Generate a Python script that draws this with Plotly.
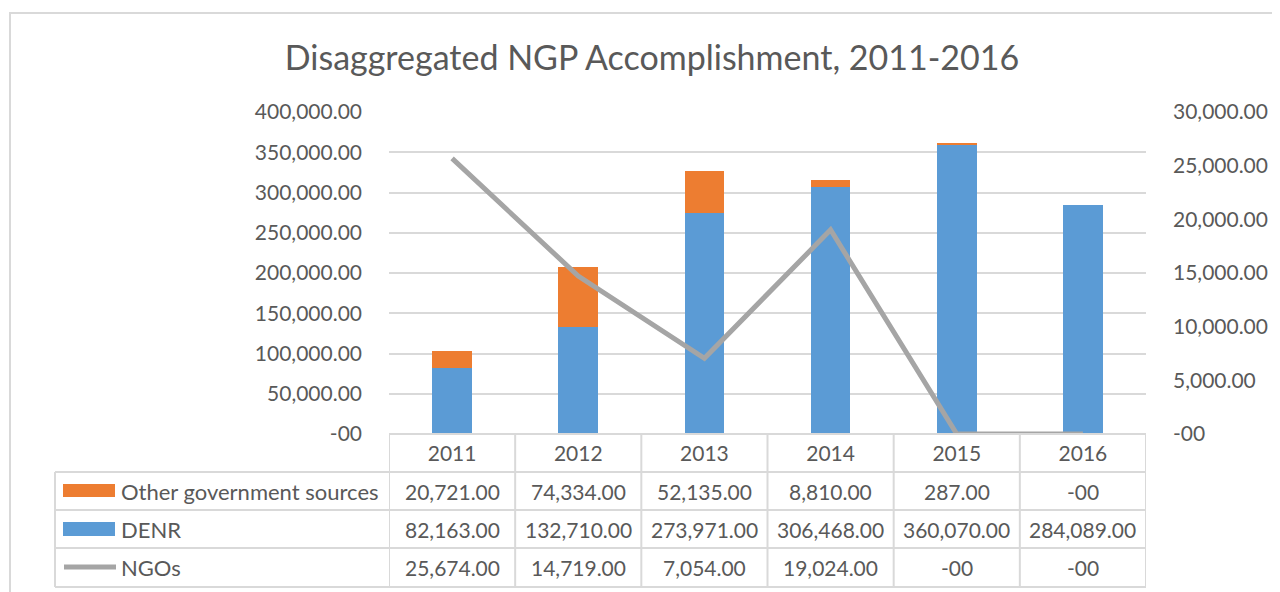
import plotly.graph_objects as go

years = ["2011", "2012", "2013", "2014", "2015", "2016"]
other_gov = [20721, 74334, 52135, 8810, 287, 0]
denr = [82163, 132710, 273971, 306468, 360070, 284089]
ngos = [25674, 14719, 7054, 19024, 0, 0]

left_ticks = [0, 50000, 100000, 150000, 200000, 250000, 300000, 350000, 400000]
right_ticks = [0, 5000, 10000, 15000, 20000, 25000, 30000]

series_names = ["Other government sources", "DENR", "NGOs"]
series_values = [other_gov, denr, ngos]

C_ORANGE = "#ED7D31"
C_BLUE = "#5B9BD5"
C_GRAY = "#A5A5A5"
TXT = "#595959"
LINE = "#D9D9D9"
FONT = "Lato"

W, H = 1280, 592
OFF = 8  # default page body margin
PL, PR, PT, PB = 389, 1146, 112, 434  # plot area in screen pixels


def fmt(v):
    return "-00" if v == 0 else f"{v:,.2f}"


def px_x(p):
    return (p - PL) / (PR - PL)


def px_y(p):
    return (PB - p) / (PB - PT)


x = list(range(len(years)))

fig = go.Figure()
fig.add_trace(go.Bar(x=x, y=denr, name="DENR", marker=dict(color=C_BLUE, line=dict(width=0)),
                     width=0.315, yaxis="y"))
fig.add_trace(go.Bar(x=x, y=other_gov, name="Other government sources",
                     marker=dict(color=C_ORANGE, line=dict(width=0)), width=0.315, yaxis="y"))
fig.add_trace(go.Scatter(x=x, y=ngos, name="NGOs", mode="lines",
                         line=dict(color=C_GRAY, width=5), yaxis="y2"))

shapes = []
annotations = []

# outer chart border
shapes.append(dict(type="rect", xref="paper", yref="paper",
                   x0=px_x(10), x1=px_x(1300), y0=px_y(13), y1=px_y(620),
                   line=dict(color=LINE, width=2), fillcolor="rgba(0,0,0,0)", layer="below"))

# table grid
row_lines = [434, 472, 510, 548, 587]
tbl_left = 55
for i, ry in enumerate(row_lines):
    x0 = PL if i == 0 else tbl_left
    shapes.append(dict(type="line", xref="paper", yref="paper",
                       x0=px_x(x0), x1=px_x(PR), y0=px_y(ry), y1=px_y(ry),
                       line=dict(color=LINE, width=2)))
for k in range(len(years) + 1):
    shapes.append(dict(type="line", xref="x", yref="paper",
                       x0=k - 0.5, x1=k - 0.5, y0=px_y(434), y1=px_y(587),
                       line=dict(color=LINE, width=2)))
shapes.append(dict(type="line", xref="paper", yref="paper",
                   x0=px_x(tbl_left), x1=px_x(tbl_left), y0=px_y(472), y1=px_y(587),
                   line=dict(color=LINE, width=2)))

row_centers = [491, 529, 567]
for r, (name, vals) in enumerate(zip(series_names, series_values)):
    cy = row_centers[r]
    for k, v in enumerate(vals):
        annotations.append(dict(x=k, y=px_y(cy), xref="x", yref="paper", text=fmt(v),
                                showarrow=False, xanchor="center", yanchor="middle",
                                font=dict(family=FONT, size=21, color=TXT)))
    annotations.append(dict(x=px_x(119), y=px_y(cy), xref="paper", yref="paper", text=name,
                            showarrow=False, xanchor="left", yanchor="middle",
                            font=dict(family=FONT, size=22, color=TXT)))

# legend keys in table
shapes.append(dict(type="rect", xref="paper", yref="paper", x0=px_x(63), x1=px_x(115),
                   y0=px_y(484), y1=px_y(497), fillcolor=C_ORANGE, line=dict(width=0)))
shapes.append(dict(type="rect", xref="paper", yref="paper", x0=px_x(63), x1=px_x(115),
                   y0=px_y(522), y1=px_y(536), fillcolor=C_BLUE, line=dict(width=0)))
shapes.append(dict(type="line", xref="paper", yref="paper", x0=px_x(64), x1=px_x(116),
                   y0=px_y(567), y1=px_y(567), line=dict(color=C_GRAY, width=5)))

fig.update_layout(
    width=W, height=H,
    margin=dict(l=PL - OFF, r=W - PR + OFF, t=PT - OFF, b=H - PB + OFF),
    paper_bgcolor="white", plot_bgcolor="white",
    barmode="stack", showlegend=False,
    title=dict(text="Disaggregated NGP Accomplishment, 2011-2016", x=(652 - OFF) / W,
               xanchor="center", y=1 - (58 - OFF) / H, yanchor="middle",
               font=dict(family=FONT, size=34, color=TXT)),
    font=dict(family=FONT, color=TXT),
    xaxis=dict(range=[-0.5, len(years) - 0.5], tickvals=x, ticktext=years,
               showgrid=False, zeroline=False, showline=False, ticks="",
               tickfont=dict(family=FONT, size=21, color=TXT), ticklabelstandoff=5),
    yaxis=dict(range=[0, 400000], tickvals=left_ticks, ticktext=[fmt(v) for v in left_ticks],
               showgrid=True, gridcolor=LINE, gridwidth=1.5, zeroline=False, showline=False,
               ticks="", tickfont=dict(family=FONT, size=21, color=TXT), ticklabelstandoff=26),
    yaxis2=dict(range=[0, 30000], tickvals=right_ticks, ticktext=[fmt(v) for v in right_ticks],
                overlaying="y", side="right", showgrid=False, zeroline=False, showline=False,
                ticks="", tickfont=dict(family=FONT, size=21, color=TXT), ticklabelstandoff=26),
    shapes=shapes, annotations=annotations,
)

fig.write_html("out.html")
